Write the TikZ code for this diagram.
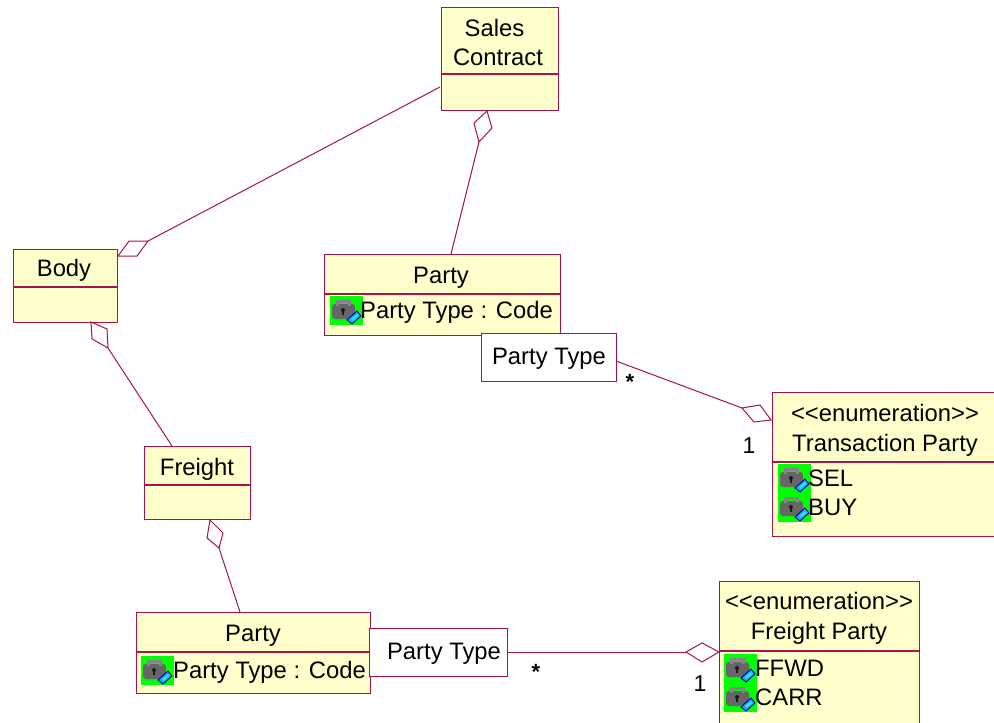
\documentclass[tikz,border=0pt]{standalone}
\usepackage{fontspec}
\setmainfont{Liberation Sans}[Ligatures=NoCommon]
\definecolor{umlline}{HTML}{A5144A}
\definecolor{umlfill}{HTML}{FFFFCC}
\definecolor{iconblue}{HTML}{18A8F0}
\definecolor{iconcyan}{HTML}{30E0FF}
\tikzset{
  x=1pt,y=-1pt,
  umlbox/.style={draw=umlline,fill=umlfill,line width=1.3pt,rectangle,inner sep=0pt,anchor=north west},
  assocbox/.style={draw=umlline,fill=white,line width=1.3pt,rectangle,inner sep=0pt,anchor=north west},
  sepline/.style={draw=umlline,line width=1.1pt},
  conn/.style={draw=umlline,line width=1pt},
  umltext/.style={font=\fontsize{23.8}{29}\selectfont,text=black,inner sep=0pt,align=center,text height=17pt,text depth=5pt,yshift=-2pt},
  multi/.style={font=\fontsize{23}{26}\selectfont,text=black,inner sep=0pt},
}
\newcommand{\enumtext}{\mbox{<}\mbox{<}enumeration\mbox{>}\mbox{>}}
\newcommand{\umlicon}[2]{%
  \fill[green] (#1,#2) rectangle ++(33,29);
  \fill[black!60,rounded corners=3pt] (#1+2,#2+8) rectangle ++(23,15);
  \draw[black!48,line width=3pt] (#1+7,#2+10) -- ++(0,-5) -- ++(12,0) -- ++(0,5);
  \fill[black!90] (#1+13,#2+14) circle (2);
  \fill[black!90] (#1+12,#2+14) rectangle ++(2,5);
  \fill[iconblue,draw=blue!65!black,line width=0.9pt] (#1+17,#2+24) -- ++(10,-9) -- ++(4,5) -- ++(-9,8) -- cycle;
  \fill[iconcyan] (#1+21,#2+23) -- ++(6,-5) -- ++(1.5,2) -- ++(-6,5) -- cycle;
}
\begin{document}
\begin{tikzpicture}
\useasboundingbox (0,0) rectangle (994,723);
\clip (0,0) rectangle (994,723);
\fill[white] (0,0) rectangle (994,723);
% coordinates of connector ends
\coordinate (c1a) at (440,87);
\coordinate (c1b) at (118,256);
\coordinate (c1d) at (148,241);
\coordinate (c1e) at (129,241);
\coordinate (c1f) at (137,256);
\coordinate (c2a) at (451,254);
\coordinate (c2b) at (487,111);
\coordinate (c2d) at (479,142);
\coordinate (c2e) at (474,123);
\coordinate (c2f) at (492,128);
\coordinate (c3a) at (172,446);
\coordinate (c3b) at (91,322);
\coordinate (c3d) at (108,348);
\coordinate (c3e) at (92,339);
\coordinate (c3f) at (107,329);
\coordinate (c4a) at (240,612);
\coordinate (c4b) at (210,520);
\coordinate (c4d) at (219,548);
\coordinate (c4e) at (207,538);
\coordinate (c4f) at (223,533);
\coordinate (c5a) at (616,361);
\coordinate (c5b) at (771,420);
\coordinate (c5d) at (742,408);
\coordinate (c5e) at (754,422);
\coordinate (c5f) at (760,405);
\coordinate (c6a) at (507,652);
\coordinate (c6b) at (719,652);
\coordinate (c6d) at (686,652);
\coordinate (c6e) at (702,643);
\coordinate (c6f) at (702,662);
% classes
\node[umlbox,minimum width=117pt,minimum height=103pt] (sales) at (441,7) {};
\draw[sepline] (441,74) -- (558,74);
\node[umltext,text depth=0pt] (salest1) at (494.5,25.5) {Sales};
\node[umltext] (salest2) at (498,57) {Contract};
\node[umlbox,minimum width=104pt,minimum height=73pt] (body) at (13,249) {};
\draw[sepline] (13,287) -- (117,287);
\node[umltext] (bodyt) at (64,268) {Body};
\node[umlbox,minimum width=106pt,minimum height=73pt] (freight) at (144,446) {};
\draw[sepline] (144,485) -- (250,485);
\node[umltext] (freightt) at (197,467) {Freight};
\node[umlbox,minimum width=236pt,minimum height=81pt] (party1) at (324,254) {};
\draw[sepline] (324,294) -- (560,294);
\node[umltext] (party1t) at (441,275) {Party};
\umlicon{330}{296}
\node[umltext,anchor=west] (party1a) at (360,310) {Party Type : Code};
\node[assocbox,minimum width=135pt,minimum height=48pt] (pt1) at (481,333) {};
\node[umltext] (pt1t) at (549,356) {Party Type};
\node[umlbox,minimum width=240pt,minimum height=144pt] (trans) at (772,392) {};
\draw[sepline] (772,462) -- (1012,462);
\node[umltext] (transs) at (885,413) {\enumtext};
\node[umltext] (transt) at (885,443) {Transaction Party};
\umlicon{778}{464}
\umlicon{778}{493}
\node[umltext,anchor=west] (sel) at (808,478) {SEL};
\node[umltext,anchor=west] (buy) at (808,507) {BUY};
\node[umlbox,minimum width=234pt,minimum height=81pt] (party2) at (136,612) {};
\draw[sepline] (136,652) -- (370,652);
\node[umltext] (party2t) at (253,633) {Party};
\umlicon{141}{656}
\node[umltext,anchor=west] (party2a) at (173,670) {Party Type : Code};
\node[assocbox,minimum width=138pt,minimum height=48pt] (pt2) at (369,628) {};
\node[umltext] (pt2t) at (444,651) {Party Type};
\node[umlbox,minimum width=200pt,minimum height=160pt] (fp) at (719,581) {};
\draw[sepline] (719,651) -- (919,651);
\node[umltext] (fps) at (819,601) {\enumtext};
\node[umltext] (fpt) at (819,631) {Freight Party};
\umlicon{724}{654}
\umlicon{724}{683}
\node[umltext,anchor=west] (ffwd) at (755,668) {FFWD};
\node[umltext,anchor=west] (carr) at (755,697) {CARR};
% connectors
\draw[conn] (c1a) -- (c1d);
\draw[conn,fill=white] (c1b) -- (c1f) -- (c1d) -- (c1e) -- cycle;
\draw[conn] (c2a) -- (c2d);
\draw[conn,fill=white] (c2b) -- (c2f) -- (c2d) -- (c2e) -- cycle;
\draw[conn] (c3a) -- (c3d);
\draw[conn,fill=white] (c3b) -- (c3f) -- (c3d) -- (c3e) -- cycle;
\draw[conn] (c4a) -- (c4d);
\draw[conn,fill=white] (c4b) -- (c4f) -- (c4d) -- (c4e) -- cycle;
\draw[conn] (c5a) -- (c5d);
\draw[conn,fill=white] (c5b) -- (c5f) -- (c5d) -- (c5e) -- cycle;
\draw[conn] (c6a) -- (c6d);
\draw[conn,fill=white] (c6b) -- (c6e) -- (c6d) -- (c6f) -- cycle;
% multiplicities
\node[multi,font=\fontsize{22}{26}\selectfont\bfseries] (m1) at (630,382) {*};
\node[multi] (m2) at (749,446) {1};
\node[multi,font=\fontsize{22}{26}\selectfont\bfseries] (m3) at (536,672) {*};
\node[multi] (m4) at (700,684) {1};
\end{tikzpicture}
\end{document}
